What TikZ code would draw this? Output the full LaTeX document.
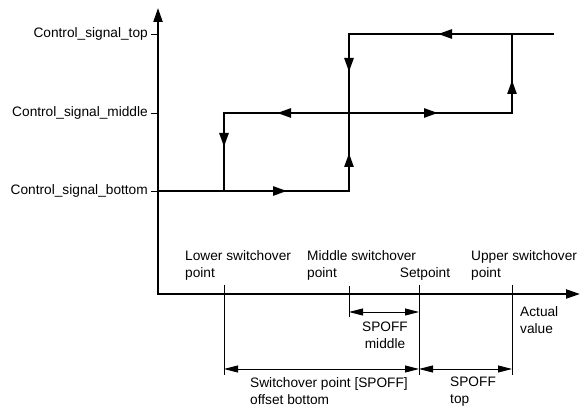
\documentclass[tikz,border=0pt]{standalone}
\usepackage{fontspec}
\setmainfont{Liberation Sans}
\usetikzlibrary{arrows.meta,decorations.markings}

\begin{document}
\begin{tikzpicture}[x=1pt,y=1pt,
  sig/.style={line width=2.6pt,line cap=rect},
  axis/.style={line width=2.2pt,{Triangle[length=14pt,width=9pt]}-{Triangle[length=14pt,width=9pt]}},
  guide/.style={line width=0.9pt},
  dim/.style={line width=0.9pt,{Triangle[length=14pt,width=7pt]}-{Triangle[length=14pt,width=7pt]}},
  flow/.style={postaction={decorate},decoration={markings,mark=at position #1 with {\arrow{Triangle[length=14pt,width=9pt]}}}},
  lbl/.style={font=\fontsize{13.7}{17}\selectfont,inner sep=0pt,align=left}]
  \useasboundingbox (0,0) rectangle (585,411);
  % axes
  \coordinate (ytop) at (158,403);
  \coordinate (orig) at (158,117);
  \coordinate (xend) at (580,117);
  \draw[axis] (ytop) -- (orig) -- (xend);
  % signal levels
  \coordinate (b0) at (158,220);
  \coordinate (b1) at (224,220);
  \coordinate (b2) at (349,220);
  \coordinate (m1) at (224,298);
  \coordinate (m2) at (349,298);
  \coordinate (m3) at (512,298);
  \coordinate (t2) at (349,377);
  \coordinate (t3) at (512,377);
  \coordinate (t4) at (553,377);
  \node[lbl,anchor=east] (ctop) at (148,377) {Control\_signal\_top};
  \node[lbl,anchor=east] (cmid) at (148,298) {Control\_signal\_middle};
  \node[lbl,anchor=east] (cbot) at (148,220) {Control\_signal\_bottom};
  \draw[guide] ([xshift=3pt]ctop.east) -- (158,377);
  \draw[guide] ([xshift=3pt]cmid.east) -- (158,298);
  \draw[guide] ([xshift=3pt]cbot.east) -- (b0);
  % switching loop
  \draw[sig,flow=129pt] (b0) -- (b2);
  \draw[sig,flow=38pt] (b2) -- (m2);
  \draw[sig,flow=89pt] (m2) -- (m3);
  \draw[sig,flow=33pt] (m3) -- (t3);
  \draw[sig] (t4) -- (t3);
  \draw[sig,flow=74pt] (t3) -- (t2);
  \draw[sig,flow=38pt] (t2) -- (m2);
  \draw[sig,flow=72pt] (m2) -- (m1);
  \draw[sig,flow=34pt] (m1) -- (b1);
  % switchover points
  \node[lbl,anchor=north west] (lower) at (185,161) {Lower switchover\\point};
  \node[lbl,anchor=north west] (middle) at (307,161) {Middle switchover\\point};
  \node[lbl,anchor=base] (setp) at (425,133) {Setpoint};
  \node[lbl,anchor=north west] (upper) at (471,161) {Upper switchover\\point};
  \node[lbl,anchor=north west] (actual) at (520,105) {Actual\\value};
  \coordinate (lsw) at (224,126);
  \coordinate (msw) at (349,125);
  \coordinate (spt) at (419,126);
  \coordinate (usw) at (512,126);
  \coordinate (lsw-e) at (224,36);
  \coordinate (msw-e) at (349,94);
  \coordinate (spt-e) at (419,36);
  \coordinate (usw-e) at (512,36);
  \draw[guide] (lsw) -- (lsw-e);
  \draw[guide] (msw) -- (msw-e);
  \draw[guide] (spt) -- (spt-e);
  \draw[guide] (usw) -- (usw-e);
  % offsets
  \coordinate (dm1) at (349,99);
  \coordinate (dm2) at (419,99);
  \coordinate (db1) at (224,42);
  \coordinate (db2) at (419,42);
  \coordinate (db3) at (512,42);
  \draw[dim] (dm1) -- (dm2);
  \draw[dim] (db1) -- (db2);
  \draw[dim] (db2) -- (db3);
  \node[lbl,anchor=north,align=center] (spmid) at (385,89) {SPOFF\\middle};
  \node[lbl,anchor=north west] (spbot) at (250,34) {Switchover point [SPOFF]\\offset bottom};
  \node[lbl,anchor=north west] (sptop) at (450,34) {SPOFF\\top};
\end{tikzpicture}
\end{document}
